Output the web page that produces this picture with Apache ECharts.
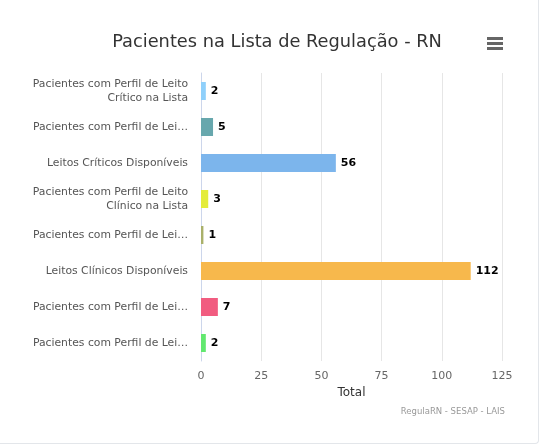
<!DOCTYPE html>
<html>
<head>
<meta charset="utf-8">
<script src="https://cdn.jsdelivr.net/npm/echarts@6/dist/echarts.min.js"></script>
<style>
  html, body { margin: 0; padding: 0; background: #fff; }
  #chart { width: 538px; height: 443px; border-right: 1px solid #e3e6ea; border-bottom: 1px solid #e3e6ea; border-radius: 0 0 4px 0; }
</style>
</head>
<body>
<div id="chart"></div>
<script>
var categories = [
    'Pacientes com Perfil de Leito\nCrítico na Lista',
    'Pacientes com Perfil de Lei…',
    'Leitos Críticos Disponíveis',
    'Pacientes com Perfil de Leito\nClínico na Lista',
    'Pacientes com Perfil de Lei…',
    'Leitos Clínicos Disponíveis',
    'Pacientes com Perfil de Lei…',
    'Pacientes com Perfil de Lei…'
];
var values = [2, 5, 56, 3, 1, 112, 7, 2];
var colors = ['#8fd0fb', '#67a7ad', '#7cb5ec', '#e4ec3a', '#a9b06a', '#f7b84c', '#f15c80', '#62e86f'];
var ticks = [0, 25, 50, 75, 100, 125];

var chart = echarts.init(document.getElementById('chart'));
var font = '"DejaVu Sans", "Open Sans", sans-serif';

var option = {
    animation: false,
    textStyle: { fontFamily: font },
    title: {
        text: 'Pacientes na Lista de Regulação - RN',
        left: 272, top: 28, textAlign: 'center',
        textStyle: { fontSize: 17.8, fontWeight: 'normal', color: '#333', fontFamily: font }
    },
    graphic: [
        { type: 'rect', shape: { x: 487, y: 37, width: 16, height: 3 }, style: { fill: '#666' } },
        { type: 'rect', shape: { x: 487, y: 42, width: 16, height: 3 }, style: { fill: '#666' } },
        { type: 'rect', shape: { x: 487, y: 47, width: 16, height: 3 }, style: { fill: '#666' } },
        { type: 'text', right: 33, top: 407, style: { text: 'RegulaRN - SESAP - LAIS', fill: '#999', fontSize: 8.5, fontFamily: font } }
    ],
    grid: { left: 201, right: 36, top: 73, height: 288, containLabel: false },
    xAxis: {
        type: 'value', min: 0, max: 125, interval: 25,
        name: 'Total', nameLocation: 'middle', nameGap: 24,
        nameTextStyle: { color: '#333', fontSize: 12 },
        axisLabel: { color: '#666', fontSize: 11, margin: 10,
            formatter: function (v) { return ticks.indexOf(v) >= 0 ? String(v) : ''; } },
        axisLine: { show: false }, axisTick: { show: false },
        splitLine: { lineStyle: { color: '#e6e6e6' } }
    },
    yAxis: {
        type: 'category', inverse: true, data: categories,
        axisLine: { lineStyle: { color: '#ccd6eb' } },
        axisTick: { show: false },
        axisLabel: { color: '#555', fontSize: 10.8, margin: 13, align: 'right', lineHeight: 14 }
    },
    series: [{
        type: 'bar', barWidth: 18,
        data: values.map(function (v, i) { return { value: v, itemStyle: { color: colors[i] } }; }),
        label: { show: true, position: 'right', distance: 5, color: '#000', fontWeight: 'bold', fontSize: 11 }
    }]
};
chart.setOption(option);
</script>
</body>
</html>
